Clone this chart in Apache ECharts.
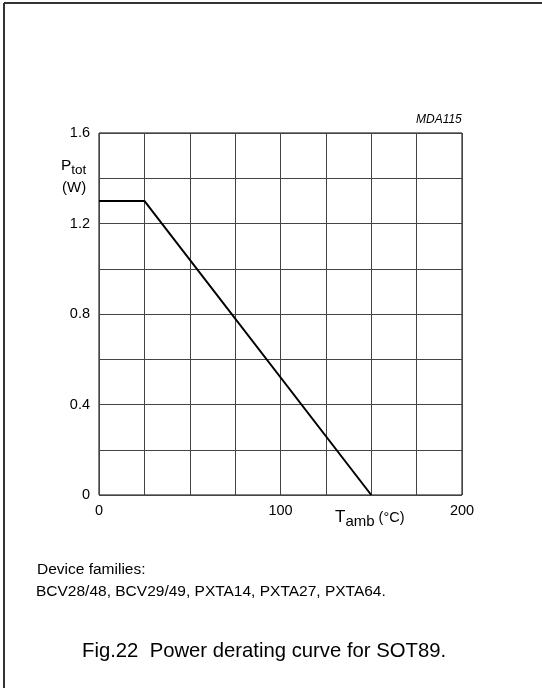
<!DOCTYPE html>
<html><head><meta charset="utf-8">
<script src="https://cdn.jsdelivr.net/npm/echarts@6/dist/echarts.min.js"></script>
<style>html,body{margin:0;padding:0;background:#fff;}#c{width:542px;height:688px;}</style>
</head><body><div id="c"></div>
<script>
const temps = [0, 25, 150];
const power = [1.3, 1.3, 0];
const xTickLabels = [0, 100, 200];
const yTickLabels = [0, 0.4, 0.8, 1.2, 1.6];

const chart = echarts.init(document.getElementById('c'), null, {renderer: 'canvas'});
const FF = '"Liberation Sans", Arial, sans-serif';
chart.setOption({
  animation: false,
  backgroundColor: '#fff',
  grid: {left: 99, top: 133, width: 363, height: 362, show: true, borderColor: '#000', borderWidth: 1},
  xAxis: {
    type: 'value', min: 0, max: 200, interval: 25,
    axisLine: {show: false}, axisTick: {show: false},
    splitLine: {show: true, lineStyle: {color: '#444', width: 1}},
    axisLabel: {fontFamily: FF, fontSize: 14.5, color: '#000', margin: 8,
      formatter: v => xTickLabels.includes(v) ? String(v) : ''}
  },
  yAxis: {
    type: 'value', min: 0, max: 1.6, interval: 0.2,
    axisLine: {show: false}, axisTick: {show: false},
    splitLine: {show: true, lineStyle: {color: '#444', width: 1}},
    axisLabel: {fontFamily: FF, fontSize: 14.5, color: '#000', margin: 9,
      formatter: v => {const r = Math.round(v*10)/10; return yTickLabels.some(t => Math.abs(t-r)<1e-6) ? (r===0?'0':r.toFixed(1)) : '';}}
  },
  series: [{
    type: 'line', data: temps.map((t, i) => [t, power[i]]),
    symbol: 'none', lineStyle: {color: '#000', width: 2}, z: 10
  }],
  graphic: [
    {type: 'line', shape: {x1: 4, y1: 3, x2: 542, y2: 3}, style: {stroke: '#333', lineWidth: 2}},
    {type: 'line', shape: {x1: 4, y1: 3, x2: 4, y2: 688}, style: {stroke: '#333', lineWidth: 2}},
    {type: 'text', left: 416, top: 114, style: {text: 'MDA115', font: 'italic 12px ' + FF, fill: '#000'}},
    {type: 'text', left: 61, top: 158, style: {
      text: '{a|P}{b|tot}', rich: {
        a: {fontFamily: FF, fontSize: 15.5, fill: '#000'},
        b: {fontFamily: FF, fontSize: 13.5, fill: '#000', padding: [9, 0, 0, 0]}
      }}},
    {type: 'text', left: 62, top: 180, style: {text: '(W)', font: '15px ' + FF, fill: '#000'}},
    {type: 'text', left: 335, top: 509, style: {
      text: '{a|T}{b|amb}{c| (°C)}', rich: {
        a: {fontFamily: FF, fontSize: 17, fill: '#000'},
        b: {fontFamily: FF, fontSize: 15, fill: '#000', padding: [8, 0, 0, 0]},
        c: {fontFamily: FF, fontSize: 14.5, fill: '#000'}
      }}},
    {type: 'text', left: 37, top: 562, style: {text: 'Device families:', font: '15.5px ' + FF, fill: '#000'}},
    {type: 'text', left: 36, top: 584, style: {text: 'BCV28/48, BCV29/49, PXTA14, PXTA27, PXTA64.', font: '15.5px ' + FF, fill: '#000'}},
    {type: 'text', left: 82, top: 641, style: {text: 'Fig.22  Power derating curve for SOT89.', font: '20.3px ' + FF, fill: '#000'}}
  ]
});
</script></body></html>
